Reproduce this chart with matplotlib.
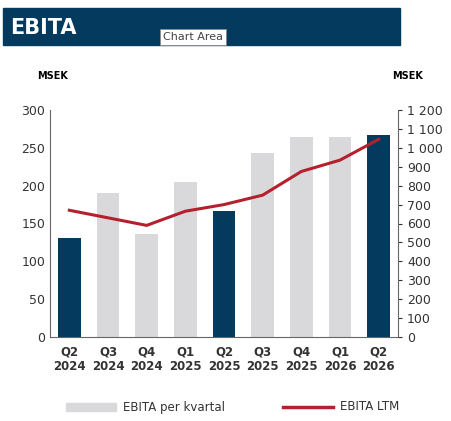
import matplotlib
matplotlib.use("Agg")
import matplotlib.pyplot as plt
from matplotlib.patches import Rectangle

categories = ["Q2\n2024","Q3\n2024","Q4\n2024","Q1\n2025","Q2\n2025","Q3\n2025","Q4\n2025","Q1\n2026","Q2\n2026"]
ebita_q = [131, 190, 136, 205, 167, 243, 264, 264, 267]
ebita_ltm = [670, 630, 590, 665, 700, 750, 875, 935, 1045]
highlight = [True, False, False, False, True, False, False, False, True]

navy = "#033A5E"; grey = "#D9D9DB"; red = "#B5202E"
W, H = 451, 421
fig = plt.figure(figsize=(W/100, H/100), dpi=100)
fig.patch.set_facecolor("white")

# banner
fig.patches.append(Rectangle((3/W, 1-45/H), 397/W, 37/H, transform=fig.transFigure, color=navy, zorder=0))
fig.text(10/W, 1-28/H, "EBITA", color="white", fontsize=15, fontweight="bold", va="center")
fig.text(193/W, 1-37/H, "Chart Area", fontsize=8, color="#444444", va="center", ha="center",
         bbox=dict(boxstyle="square,pad=0.3", fc="white", ec="#888888", lw=0.6))

ax = fig.add_axes([50/W, 1-337/H, 348/W, 227/H])
x = list(range(len(categories)))
ax.bar(x, ebita_q, width=0.58, color=[navy if h else grey for h in highlight], zorder=2)
ax.set_ylim(0, 300); ax.set_yticks(range(0, 301, 50))
ax.set_xlim(-0.5, len(categories)-0.5)
ax.set_xticks(x); ax.set_xticklabels(categories, fontsize=8.5, fontweight="bold", color="#333333")
ax.tick_params(axis="y", labelsize=9, colors="#333333", length=0)
ax.tick_params(axis="x", length=0, pad=6)
for s in ["top", "right"]: ax.spines[s].set_visible(False)
ax.spines["left"].set_color("#666666"); ax.spines["bottom"].set_color("#666666")

ax2 = ax.twinx()
ax2.plot(x, ebita_ltm, color=red, lw=2.2, zorder=3)
ax2.set_ylim(0, 1200); ax2.set_yticks(range(0, 1201, 100))
ax2.set_yticklabels([f"{v:,}".replace(",", " ") for v in range(0, 1201, 100)])
ax2.tick_params(axis="y", labelsize=9, colors="#333333", direction="out", length=3)
for s in ["top", "left"]: ax2.spines[s].set_visible(False)
ax2.spines["right"].set_color("#666666"); ax2.spines["bottom"].set_visible(False)

fig.text(37/W, 1-76/H, "MSEK", fontsize=7, fontweight="bold", va="center")
fig.text(392/W, 1-76/H, "MSEK", fontsize=7, fontweight="bold", va="center")

# legend
fig.patches.append(Rectangle((66/W, 1-411/H), 50/W, 8/H, transform=fig.transFigure, color=grey))
fig.text(123/W, 1-407/H, "EBITA per kvartal", fontsize=8.5, va="center", color="#333333")
fig.lines.append(plt.Line2D([283/W, 333/W], [1-407/H, 1-407/H], transform=fig.transFigure, color=red, lw=2.5))
fig.text(340/W, 1-407/H, "EBITA LTM", fontsize=8.5, va="center", color="#333333")

fig.savefig("out.png", dpi=100)
